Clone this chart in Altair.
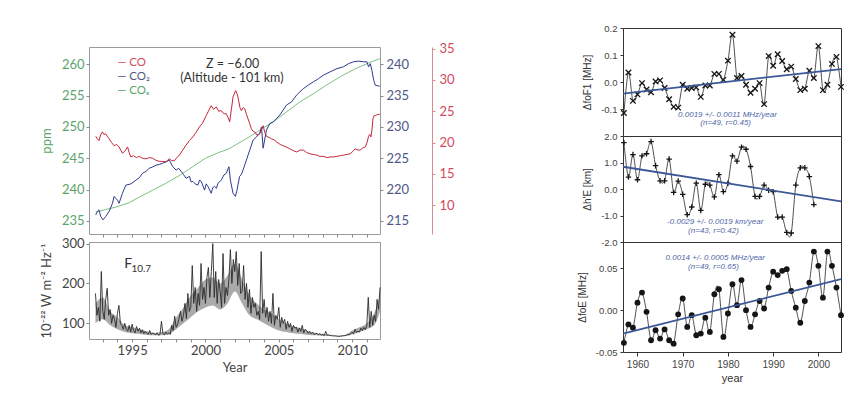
import altair as alt
import pandas as pd

# ================= LEFT FIGURE DATA =================
# CO (red, right outer axis), pairs (year, value)
co_pts = [(1992.52, 21.0), (1992.63, 20.6), (1992.74, 20.3), (1992.85, 21.2), (1992.97, 21.7), (1993.08, 21.3),
          (1993.20, 21.4), (1993.31, 21.0), (1993.43, 20.6), (1993.6, 20.0), (1993.77, 19.5), (1993.94, 19.7),
          (1994.11, 19.3), (1994.22, 18.8), (1994.34, 18.3), (1994.5, 18.6), (1994.69, 19.3), (1994.8, 18.4),
          (1994.91, 17.7), (1995.1, 17.9), (1995.3, 17.6), (1995.48, 17.8), (1995.7, 17.5), (1995.94, 17.4),
          (1996.17, 17.6), (1996.40, 17.5), (1996.6, 17.2), (1996.85, 17.0), (1997.1, 17.0), (1997.31, 16.9),
          (1997.42, 17.2), (1997.54, 17.4), (1997.7, 17.1), (1997.88, 17.1), (1998.05, 17.6), (1998.22, 18.0),
          (1998.45, 18.8), (1998.68, 19.6), (1998.9, 20.3), (1999.14, 20.9), (1999.35, 21.6), (1999.59, 22.5),
          (1999.8, 23.1), (2000.05, 24.3), (2000.2, 25.0), (2000.39, 25.9), (2000.55, 25.3), (2000.74, 25.7),
          (2000.9, 25.0), (2001.08, 25.1), (2001.25, 24.6), (2001.42, 24.6), (2001.55, 24.0), (2001.65, 23.3),
          (2001.78, 25.5), (2001.88, 27.3), (2002.06, 28.3), (2002.15, 27.8), (2002.22, 27.2), (2002.35, 25.6),
          (2002.45, 25.1), (2002.57, 25.6), (2002.68, 25.4), (2002.8, 24.5), (2002.90, 23.8), (2003.02, 23.0),
          (2003.13, 22.2), (2003.25, 21.8), (2003.36, 21.7), (2003.5, 21.2), (2003.70, 21.4), (2003.8, 21.9),
          (2003.93, 22.7), (2004.05, 21.6), (2004.16, 21.0), (2004.35, 20.8), (2004.50, 20.6), (2004.7, 20.4),
          (2004.85, 20.1), (2005.1, 19.7), (2005.30, 19.5), (2005.5, 19.3), (2005.76, 19.0), (2006.0, 18.7),
          (2006.22, 18.5), (2006.45, 18.8), (2006.67, 18.8), (2006.9, 18.4), (2007.13, 18.2), (2007.35, 18.1),
          (2007.59, 18.0), (2007.8, 17.8), (2008.04, 17.8), (2008.3, 17.6), (2008.50, 17.7), (2008.7, 17.7),
          (2008.96, 17.8), (2009.2, 17.9), (2009.41, 18.0), (2009.65, 18.1), (2009.87, 18.2), (2010.05, 18.6),
          (2010.21, 19.0), (2010.4, 18.8), (2010.55, 18.8), (2010.7, 19.1), (2010.90, 19.3), (2011.02, 20.0),
          (2011.12, 21.0), (2011.2, 21.3), (2011.28, 20.9), (2011.35, 22.0), (2011.42, 23.8), (2011.5, 24.3),
          (2011.58, 24.3), (2011.75, 24.5), (2011.88, 24.5)]

# CO2 (blue, right inner axis)
co2_pts = [(1992.52, 215.96), (1992.63, 216.5), (1992.74, 216.75), (1992.86, 215.7), (1993.02, 215.16),
           (1993.2, 215.7), (1993.43, 216.5), (1993.66, 217.8), (1993.77, 218.9), (1994.0, 218.3),
           (1994.11, 217.8), (1994.34, 219.4), (1994.57, 220.7), (1994.91, 220.9), (1995.26, 221.5),
           (1995.5, 221.9), (1995.71, 222.6), (1995.95, 222.9), (1996.17, 223.4), (1996.4, 223.6),
           (1996.63, 223.9), (1996.85, 224.0), (1997.08, 224.2), (1997.3, 224.4), (1997.54, 224.7),
           (1997.77, 223.65), (1998.0, 223.1), (1998.17, 223.4), (1998.34, 222.9), (1998.5, 222.4),
           (1998.68, 221.8), (1998.91, 222.1), (1999.02, 221.2), (1999.14, 221.3), (1999.3, 220.9),
           (1999.48, 220.7), (1999.6, 221.5), (1999.71, 221.3), (1999.94, 219.9), (2000.05, 220.9),
           (2000.17, 220.5), (2000.39, 219.4), (2000.5, 220.3), (2000.62, 220.5), (2000.75, 220.2),
           (2000.85, 221.0), (2001.08, 221.5), (2001.25, 222.3), (2001.42, 222.6), (2001.6, 223.65),
           (2001.7, 221.5), (2001.88, 219.4), (2002.04, 218.9), (2002.15, 219.9), (2002.33, 222.1),
           (2002.45, 222.4), (2002.56, 223.1), (2002.79, 224.7), (2003.02, 226.3), (2003.25, 227.9),
           (2003.48, 228.4), (2003.70, 229.0), (2003.82, 230.0), (2003.93, 226.6), (2004.16, 229.5),
           (2004.39, 230.55), (2004.62, 230.8), (2004.85, 231.35), (2005.07, 231.9), (2005.30, 232.7),
           (2005.53, 233.5), (2005.87, 234.0), (2006.22, 235.1), (2006.44, 235.6), (2006.67, 236.1),
           (2007.02, 236.7), (2007.36, 237.2), (2007.70, 237.7), (2008.04, 238.25), (2008.5, 238.8),
           (2008.96, 239.3), (2009.41, 239.6), (2009.75, 240.1), (2010.1, 240.4), (2010.44, 240.5),
           (2010.78, 240.4), (2011.01, 240.4), (2011.12, 239.6), (2011.24, 240.1), (2011.35, 239.0),
           (2011.47, 237.45), (2011.58, 236.66), (2011.88, 236.5)]

# COx (green, left axis, ppm)
cox_pts = [(1992.52, 236.4), (1993.2, 236.8), (1993.9, 237.2), (1994.8, 237.9), (1995.5, 238.8),
           (1996.4, 239.9), (1997.3, 241.0), (1998.2, 242.2), (1999.1, 243.6), (2000.0, 245.0),
           (2000.9, 245.9), (2001.6, 246.5), (2002.4, 247.6), (2003.2, 248.7), (2003.9, 249.8),
           (2004.62, 250.8), (2005.53, 252.4), (2006.44, 254.0), (2007.36, 255.3), (2008.27, 256.7),
           (2009.18, 258.0), (2010.1, 259.15), (2011.01, 260.1), (2011.88, 260.9)]

# F10.7 solar flux, one value every 0.1 year from 1992.5
f107_first_year = 1992.5
f107_step = 0.1
f107 = [175, 120, 140, 105, 230, 130, 110, 160, 188, 120,
        135, 100, 120, 110, 90, 125, 145, 100, 95, 85,
        100, 85, 80, 95, 78, 98, 82, 76, 92, 80,
        88, 76, 84, 74, 80, 75, 73, 82, 72, 76,
        74, 71, 76, 70, 72, 105, 74, 71, 78, 73,
        76, 72, 95, 82, 118, 90, 98, 112, 130, 105,
        120, 150, 112, 175, 130, 140, 245, 150, 190, 130,
        175, 145, 250, 160, 190, 150, 215, 240, 165, 230,
        300, 165, 230, 150, 210, 180, 140, 275, 150, 190,
        170, 210, 285, 200, 260, 230, 280, 195, 250, 175,
        180, 245, 160, 200, 140, 185, 125, 165, 140, 150,
        120, 130, 110, 280, 125, 160, 115, 140, 105, 130,
        100, 175, 95, 120, 110, 140, 90, 115, 100, 110,
        85, 105, 90, 100, 80, 95, 88, 90, 78, 88,
        80, 95, 76, 85, 82, 75, 80, 74, 78, 72,
        74, 75, 71, 74, 70, 72, 69, 80, 70, 71,
        69, 70, 68, 69, 68, 68, 67, 68, 68, 69,
        69, 70, 72, 71, 74, 78, 73, 85, 77, 80,
        78, 88, 82, 90, 84, 95, 165, 90, 130, 95,
        120, 105, 160, 135, 190]

# dense core of the F10.7 band (lower / upper edge), read every half year
f107_core_years = [1992.5, 1993.0, 1993.5, 1994.0, 1994.5, 1995.0, 1995.5, 1996.0, 1996.5, 1997.0,
                   1997.5, 1998.0, 1998.5, 1999.0, 1999.5, 2000.0, 2000.5, 2001.0, 2001.5, 2002.0,
                   2002.5, 2003.0, 2003.5, 2004.0, 2004.5, 2005.0, 2005.5, 2006.0, 2006.5, 2007.0,
                   2007.5, 2008.0, 2008.5, 2009.0, 2009.5, 2010.0, 2010.5, 2011.0, 2011.5, 2011.9]
f107_core_low = [100, 110, 95, 85, 78, 75, 73, 71, 70, 70,
                 72, 85, 100, 115, 130, 140, 145, 135, 150, 180,
                 150, 120, 110, 100, 90, 82, 78, 75, 73, 71,
                 70, 69, 68, 67, 68, 72, 78, 85, 95, 130]
f107_core_high = [150, 165, 130, 115, 95, 90, 85, 80, 76, 78,
                  85, 115, 140, 170, 190, 210, 215, 200, 220, 250,
                  210, 170, 150, 135, 125, 110, 100, 92, 88, 80,
                  76, 74, 71, 69, 71, 82, 90, 100, 125, 170]

# ================= RIGHT FIGURE DATA =================
fof1_years = list(range(1957, 2006))
fof1 = [-0.115, 0.035, -0.07, -0.046, -0.004, -0.028, -0.038, 0.002, 0.006, -0.022,
        -0.064, -0.092, -0.095, -0.01, -0.025, -0.022, -0.02, -0.055, -0.013, -0.013,
        0.03, 0.03, 0.008, 0.079, 0.175, 0.015, 0.022, -0.01, -0.04, -0.025,
        -0.004, -0.082, 0.096, 0.06, 0.103, 0.078, 0.047, 0.057, 0.011, -0.03,
        -0.025, 0.042, 0.015, 0.133, -0.03, -0.01, 0.067, 0.093, -0.018]
he_years = list(range(1957, 2000))
he = [1.75, 0.45, 1.3, 0.35, 1.25, 1.33, 1.79, 0.88, 0.31, 0.31,
      1.13, -0.13, 0.3, -0.2, -0.97, -0.68, 0.22, -0.81, 0.18, 0.15,
      -0.3, 0.54, -0.1, 0.22, 1.25, 1.05, 1.58, 1.5, 0.85, -0.28,
      -0.28, 0.15, -0.05, -0.1, -1.06, -1.06, -1.64, -1.66, 0.15, 0.8,
      0.8, 0.47, -0.59]
foe_years = list(range(1957, 2006))
foe = [-0.039, -0.017, -0.021, 0.009, 0.021, -0.002, -0.036, -0.024, -0.034, -0.023,
       -0.036, -0.04, -0.005, 0.014, -0.02, -0.006, -0.03, -0.028, -0.009, -0.026,
       0.019, 0.025, -0.032, -0.004, 0.031, 0.006, 0.036, 0.0, -0.02, -0.005,
       0.011, 0.002, 0.027, 0.046, 0.042, 0.047, 0.049, 0.023, 0.003, -0.015,
       0.011, 0.033, 0.07, 0.053, 0.015, 0.07, 0.053, 0.027, -0.006]

trend_years = [1956.8, 2005.0]
fof1_trend = [-0.043, 0.048]
he_trend = [0.84, -0.47]
foe_trend = [-0.028, 0.037]

fof1_note = ["0.0019 +/- 0.0011 MHz/year", "(n=49, r=0.45)"]
he_note = ["-0.0029 +/- 0.0019 km/year", "(n=43, r=0.42)"]
foe_note = ["0.0014 +/- 0.0005 MHz/year", "(n=49, r=0.65)"]

legend_labels = ["— CO", "— CO₂", "— COₓ"]
title_lines = ["Z = −6.00", "(Altitude - 101 km)"]

# ================= STYLE =================
FONT_L = "Lato"
FONT_R = "Liberation Sans"
GREEN_LINE = "#7dc183"
GREEN_TXT = "#5aa46c"
BLUE_LINE = "#2f3a8e"
BLUE_TXT = "#4e5786"
RED_LINE = "#c3273a"
RED_TXT = "#d24a5c"
FRAME_L = "#9a9a9a"

# ================= LEFT FIGURE =================
df_co = pd.DataFrame(co_pts, columns=["year", "co"])
df_co2 = pd.DataFrame(co2_pts, columns=["year", "co2"])
df_cox = pd.DataFrame(cox_pts, columns=["year", "ppm"])
df_f = pd.DataFrame({"year": [round(f107_first_year + f107_step * i, 2) for i in range(len(f107))],
                     "flux": f107})
df_core = pd.DataFrame({"year": f107_core_years, "flux": f107_core_low, "flux2": f107_core_high})

xs_left = alt.Scale(domain=[1992.06, 2011.9], nice=False, zero=False)
year_ticks = list(range(1993, 2012))


def left_x(labels):
    ax = alt.Axis(values=year_ticks, labels=labels, labelExpr="datum.value % 5 == 0 ? format(datum.value, 'd') : ''",
                  tickSize=3, tickColor="#8a8a8a", domain=False, grid=False, labelOverlap=False,
                  labelFont=FONT_L, labelFontSize=13, labelColor="#444", labelPadding=2,
                  titleFont=FONT_L, titleFontSize=13, titleFontWeight="normal", titleColor="#444",
                  titlePadding=4)
    if labels:
        return alt.X("year:Q", scale=xs_left, axis=ax, title="Year")
    return alt.X("year:Q", scale=xs_left, axis=ax, title=None)


ppm_y = alt.Y("ppm:Q", scale=alt.Scale(domain=[232.9, 262.76], nice=False, zero=False),
              axis=alt.Axis(orient="left", values=[235, 240, 245, 250, 255, 260], title="ppm",
                            tickSize=3, tickColor="#8a8a8a", domain=False, grid=False,
                            labelFont=FONT_L, labelFontSize=13, labelColor=GREEN_TXT, labelPadding=2,
                            titleFont=FONT_L, titleFontSize=13, titleFontWeight="normal",
                            titleColor=GREEN_TXT, titlePadding=8))

green = alt.Chart(df_cox).mark_line(color=GREEN_LINE, strokeWidth=1).encode(x=left_x(False), y=ppm_y)

df_leg = pd.DataFrame({"year": [1993.98] * 3, "ppm": [260.2, 258.0, 255.7], "label": legend_labels,
                       "col": [RED_TXT, BLUE_TXT, GREEN_TXT]})
leg_text = alt.Chart(df_leg).mark_text(align="left", baseline="middle", font=FONT_L, fontSize=11.5).encode(
    x=left_x(False), y=ppm_y, text="label:N", color=alt.Color("col:N", scale=None))

df_title = pd.DataFrame({"year": [2001.85, 2001.8], "ppm": [260.0, 257.8], "label": title_lines})
z_text = alt.Chart(df_title).mark_text(align="center", baseline="middle", font=FONT_L, fontSize=12.5,
                                       color="#333").encode(x=left_x(False), y=ppm_y, text="label:N")

blue = alt.Chart(df_co2).mark_line(color=BLUE_LINE, strokeWidth=1).encode(
    x=left_x(False),
    y=alt.Y("co2:Q", scale=alt.Scale(domain=[212.9, 242.76], nice=False, zero=False),
            axis=alt.Axis(orient="right", values=[215, 220, 225, 230, 235, 240], title=None,
                          tickSize=3, tickColor="#8a8a8a", domain=False, grid=False,
                          labelFont=FONT_L, labelFontSize=13, labelColor=BLUE_TXT, labelPadding=3)))

red = alt.Chart(df_co).mark_line(color=RED_LINE, strokeWidth=1).encode(
    x=left_x(False),
    y=alt.Y("co:Q", scale=alt.Scale(domain=[5.4, 35.26], nice=False, zero=False),
            axis=alt.Axis(orient="right", offset=52, values=[10, 15, 20, 25, 30, 35], title=None,
                          tickSize=3, tickColor="#d98a93", domain=True, domainColor="#d98a93",
                          grid=False, labelFont=FONT_L, labelFontSize=13, labelColor=RED_TXT,
                          labelPadding=4)))

top_left = alt.layer(alt.layer(green, leg_text, z_text), blue, red).resolve_scale(y="independent").properties(
    width=291, height=187, view=alt.ViewBackground(stroke=FRAME_L, strokeWidth=1))

flux_y = alt.Y("flux:Q", scale=alt.Scale(domain=[60.7, 304], nice=False, zero=False),
               axis=alt.Axis(values=[100, 200, 300], title="10⁻²² W m⁻² Hz⁻¹",
                             tickSize=3, tickColor="#8a8a8a", domain=False, grid=False,
                             labelFont=FONT_L, labelFontSize=13, labelColor="#444", labelPadding=2,
                             titleFont=FONT_L, titleFontSize=13, titleFontWeight="normal",
                             titleColor="#444", titlePadding=8))

core = alt.Chart(df_core).mark_area(color="#555555", opacity=0.5, interpolate="monotone").encode(
    x=left_x(True), y=flux_y, y2="flux2:Q")
flux_line = alt.Chart(df_f).mark_line(color="#2a2a2a", strokeWidth=0.9).encode(x=left_x(True), y=flux_y)
df_F = pd.DataFrame({"year": [1994.46], "flux": [250.0], "label": ["F"]})
df_sub = pd.DataFrame({"year": [1994.95], "flux": [236.0], "label": ["10.7"]})
f_text = alt.Chart(df_F).mark_text(align="left", baseline="middle", font=FONT_L, fontSize=14, color="#333").encode(
    x=left_x(True), y=flux_y, text="label:N")
sub_text = alt.Chart(df_sub).mark_text(align="left", baseline="middle", font=FONT_L, fontSize=10, color="#333").encode(
    x=left_x(True), y=flux_y, text="label:N")

bottom_left = alt.layer(core, flux_line, f_text, sub_text).properties(
    width=291, height=97, view=alt.ViewBackground(stroke=FRAME_L, strokeWidth=1))

spacer = alt.Chart(pd.DataFrame({"v": [0]})).mark_point(opacity=0).encode(
    x=alt.X("v:Q", axis=None), y=alt.Y("v:Q", axis=None)).properties(
    width=291, height=11, view=alt.ViewBackground(stroke="transparent"))

left = alt.vconcat(spacer, top_left, bottom_left, spacing=8, bounds="flush")

# ================= RIGHT FIGURE =================
xs_right = alt.Scale(domain=[1956.8, 2005.0], nice=False, zero=False)
NOTE_COL = "#4f67a6"
TREND_COL = "#3b5897"
CROSS = "M-1,-1L1,1M1,-1L-1,1"
PLUS = "M-1,0L1,0M0,-1L0,1"


def right_panel(years, vals, kind, trend, note, note_pos, domain, ticks, fmt, title, height, show_x):
    df = pd.DataFrame({"year": years, "v": vals})
    df_t = pd.DataFrame({"year": trend_years, "v": trend})
    df_n = pd.DataFrame({"year": [note_pos[0], note_pos[0] - 0.4], "v": [note_pos[1], note_pos[2]], "label": note})
    if show_x:
        x = alt.X("year:Q", scale=xs_right, title="year",
                  axis=alt.Axis(values=[1960, 1970, 1980, 1990, 2000], format="d", tickSize=4,
                                tickColor="#333", domain=False, grid=False, labelFont=FONT_R,
                                labelFontSize=10, labelColor="#444", labelPadding=3,
                                titleFont=FONT_R, titleFontSize=11, titleFontWeight="normal",
                                titleColor="#333", titlePadding=3))
    else:
        x = alt.X("year:Q", scale=xs_right, axis=None)
    y = alt.Y("v:Q", scale=alt.Scale(domain=domain, nice=False, zero=False), title=title,
              axis=alt.Axis(values=ticks, tickSize=3, tickColor="#333", domain=False, grid=False,
                            labelExpr=f"datum.value < 0 ? '-' + format(-datum.value, '{fmt}') : format(datum.value, '{fmt}')",
                            labelFont=FONT_R, labelFontSize=9.5, labelColor="#444", labelPadding=3,
                            titleFont=FONT_R, titleFontSize=10, titleFontWeight="normal",
                            titleColor="#333", titlePadding=8))
    line = alt.Chart(df).mark_line(interpolate="cardinal", color="#222", strokeWidth=0.8).encode(x=x, y=y)
    if kind == "circle":
        pts = alt.Chart(df).mark_circle(size=34, color="#151515", opacity=1).encode(x=x, y=y)
    else:
        pts = alt.Chart(df).mark_point(shape=CROSS if kind == "cross" else PLUS, size=30, filled=False,
                                       color="#151515", strokeWidth=1.3, opacity=1).encode(x=x, y=y)
    tr = alt.Chart(df_t).mark_line(color=TREND_COL, strokeWidth=1.8).encode(x=x, y=y)
    txt = alt.Chart(df_n).mark_text(font=FONT_R, fontSize=8, fontStyle="italic", color=NOTE_COL,
                                    align="center", baseline="middle").encode(x=x, y=y, text="label:N")
    return alt.layer(line, pts, tr, txt).properties(
        width=218, height=height, view=alt.ViewBackground(stroke="#333", strokeWidth=1))


p1 = right_panel(fof1_years, fof1, "cross", fof1_trend, fof1_note, (1979.9, -0.121, -0.153),
                 [-0.2, 0.2], [-0.1, 0.0, 0.1, 0.2], ".1f", "ΔfoF1 [MHz]", 108, False)
p2 = right_panel(he_years, he, "plus", he_trend, he_note, (1977.2, -1.23, -1.58),
                 [-2.0, 2.0], [-2.0, -1.0, 0.0, 1.0, 2.0], ".1f", "Δh'E [km]", 106, False)
p3 = right_panel(foe_years, foe, "circle", foe_trend, foe_note, (1977.2, 0.0628, 0.0512),
                 [-0.05, 0.0815], [-0.05, 0.0, 0.05], ".2f", "ΔfoE [MHz]", 110, True)

right = alt.vconcat(p1, p2, p3, spacing=0, bounds="flush")

chart = alt.hconcat(left, right, spacing=534, bounds="flush").properties(
    padding={"left": 31, "top": 14, "right": 0, "bottom": 0})

chart.save("out.html", embed_options={"renderer": "svg", "actions": False})
